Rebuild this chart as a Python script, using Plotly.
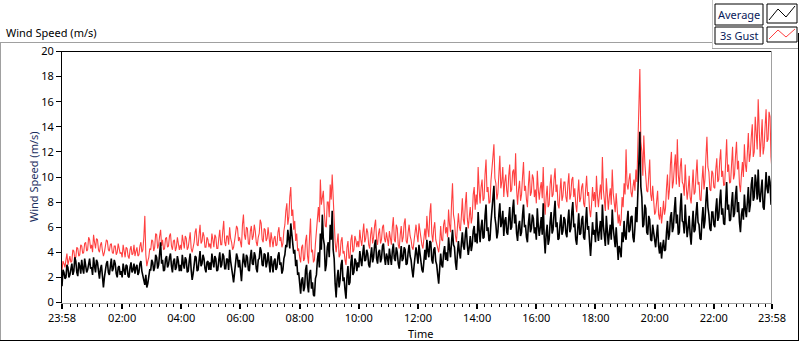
import pandas as pd
import plotly.graph_objects as go

# ---- data: 2-minute samples starting 23:58 (one row per hour) ----
avg_speed = [
    1.3, 2.6, 2.4, 1.9, 2.0, 3.0, 2.8, 2.0, 2.2, 2.7, 3.1, 2.2, 2.5, 3.6, 3.3, 2.4, 2.1, 3.2, 2.9, 2.3, 3.4, 2.7, 2.3, 3.5, 3.0, 2.4, 2.6, 3.3, 3.5, 2.7,
    2.8, 2.2, 3.6, 2.9, 2.4, 3.4, 3.2, 2.5, 1.9, 2.7, 3.0, 2.1, 1.2, 2.0, 2.6, 3.1, 3.3, 2.4, 2.2, 3.0, 3.5, 2.5, 2.7, 3.4, 3.1, 2.3, 2.0, 2.8, 2.9, 2.2,
    2.5, 2.0, 3.1, 2.6, 2.2, 3.0, 2.9, 2.1, 2.0, 2.8, 3.2, 2.4, 2.6, 3.1, 2.3, 2.8, 3.0, 2.2, 2.4, 3.1, 3.3, 2.5, 2.1, 1.6, 1.4, 2.2, 1.2, 1.5, 2.0, 2.6,
    2.6, 3.4, 3.2, 2.5, 2.8, 3.8, 3.6, 2.7, 3.0, 4.2, 4.8, 3.1, 3.4, 2.5, 2.6, 3.5, 3.7, 2.8, 3.0, 3.6, 3.9, 2.9, 2.4, 3.3, 3.5, 2.6, 2.8, 3.7, 3.3, 2.5,
    3.0, 2.5, 3.8, 3.1, 2.7, 3.6, 3.4, 2.4, 2.5, 3.3, 3.9, 2.6, 1.8, 2.3, 2.9, 3.7, 3.6, 2.5, 2.6, 3.5, 4.1, 2.9, 3.1, 3.8, 3.5, 2.7, 2.4, 3.2, 3.3, 2.6,
    3.2, 2.6, 3.9, 3.3, 2.8, 3.7, 3.5, 2.5, 2.6, 3.4, 4.0, 2.8, 3.0, 3.9, 3.7, 2.7, 2.7, 3.5, 3.4, 2.6, 4.2, 3.3, 2.9, 2.2, 1.6, 2.4, 3.1, 3.9, 3.6, 2.8,
    3.4, 2.3, 1.7, 3.0, 3.9, 3.2, 2.8, 3.8, 3.6, 2.6, 2.5, 3.6, 4.2, 3.1, 3.0, 4.0, 3.7, 2.7, 2.4, 3.4, 3.5, 4.4, 4.1, 3.0, 2.9, 3.9, 3.8, 2.8, 3.2, 4.0,
    3.0, 2.4, 3.7, 3.1, 2.4, 3.3, 3.5, 2.6, 2.8, 3.7, 4.0, 3.0, 3.2, 2.3, 2.6, 3.5, 3.8, 4.6, 4.4, 5.8, 5.2, 4.3, 6.3, 5.5, 5.0, 3.9, 4.2, 2.9, 3.4, 2.2,
    2.4, 1.5, 0.7, 1.8, 2.0, 0.9, 1.2, 2.6, 3.0, 1.4, 0.8, 2.3, 2.6, 1.1, 1.6, 0.6, 0.5, 1.9, 2.2, 3.4, 4.0, 2.8, 5.5, 4.2, 7.0, 5.1, 4.6, 2.5, 3.0, 4.4,
    4.8, 3.6, 6.2, 5.0, 7.3, 4.2, 3.5, 1.5, 0.4, 1.9, 2.6, 1.2, 1.8, 3.0, 3.4, 1.7, 2.0, 1.0, 0.3, 2.1, 2.9, 1.4, 1.6, 3.2, 3.8, 2.2, 2.4, 3.5, 3.3, 2.5,
    3.2, 2.8, 4.1, 3.4, 2.9, 3.9, 4.6, 3.3, 3.4, 4.2, 3.9, 3.0, 2.8, 3.7, 4.4, 3.2, 3.6, 4.6, 5.0, 3.5, 3.1, 4.0, 4.2, 3.2, 3.5, 4.5, 4.7, 3.6, 3.0, 3.9,
    3.6, 3.0, 4.3, 3.6, 3.0, 4.1, 4.7, 3.5, 3.3, 4.4, 4.0, 3.1, 2.7, 3.6, 4.5, 3.3, 3.5, 4.4, 4.2, 3.0, 3.1, 4.0, 4.6, 3.7, 3.4, 2.6, 2.0, 2.9, 3.8, 4.4,
    3.8, 3.1, 4.6, 3.9, 3.3, 2.6, 2.4, 3.5, 4.2, 3.4, 5.0, 4.1, 3.6, 4.9, 4.8, 3.4, 3.1, 4.2, 4.4, 3.3, 3.0, 2.2, 1.5, 2.7, 3.9, 3.0, 2.8, 4.0, 4.5, 3.4,
    4.0, 3.3, 5.2, 4.3, 3.6, 4.8, 5.8, 4.6, 4.4, 3.2, 2.6, 3.9, 4.9, 4.0, 3.5, 4.7, 5.6, 4.5, 4.2, 5.4, 6.0, 4.6, 3.8, 4.4, 5.3, 4.1, 4.6, 5.7, 6.1, 4.8,
    5.5, 4.7, 7.2, 5.8, 4.8, 6.0, 6.6, 5.1, 5.2, 6.9, 7.8, 5.7, 6.0, 4.9, 5.0, 6.4, 7.4, 8.2, 9.3, 6.8, 6.2, 5.1, 5.6, 7.0, 7.9, 6.0, 6.4, 7.3, 5.3, 6.5,
    6.8, 5.6, 5.4, 6.7, 7.6, 5.8, 6.0, 7.4, 8.2, 6.3, 7.0, 5.5, 4.9, 6.1, 6.5, 5.3, 5.6, 6.9, 7.8, 6.0, 6.2, 5.2, 4.8, 6.3, 7.1, 5.6, 5.9, 7.0, 6.7, 5.5,
    6.0, 5.0, 7.5, 6.1, 5.3, 6.0, 6.8, 5.4, 7.9, 5.2, 3.9, 5.5, 6.2, 4.6, 5.0, 6.4, 7.2, 5.5, 5.8, 7.1, 8.1, 6.0, 6.4, 5.0, 5.1, 6.2, 7.0, 5.4, 5.7, 6.8,
    6.6, 5.5, 5.2, 6.5, 7.4, 5.6, 5.9, 7.2, 8.0, 6.0, 6.3, 5.0, 4.6, 5.9, 7.1, 5.4, 5.5, 6.6, 6.9, 5.2, 5.0, 6.4, 7.6, 5.8, 6.1, 4.8, 3.7, 5.0, 6.4, 5.4,
    5.8, 4.8, 7.2, 5.7, 4.9, 5.8, 6.5, 5.0, 7.8, 6.1, 5.4, 4.5, 6.9, 5.6, 4.6, 5.5, 6.2, 5.0, 7.4, 5.9, 5.1, 4.4, 6.0, 4.7, 3.4, 4.5, 4.2, 3.6, 5.6, 4.8,
    6.5, 5.3, 5.0, 6.4, 7.3, 5.6, 5.8, 6.8, 6.9, 5.2, 4.8, 6.0, 7.6, 6.4, 8.5, 11.0, 13.6, 9.2, 8.4, 6.0, 6.2, 7.8, 7.5, 5.6, 5.4, 6.9, 6.6, 5.0, 4.9, 6.2,
    5.6, 4.6, 4.4, 5.4, 6.2, 4.5, 3.9, 4.8, 3.5, 4.4, 5.0, 4.1, 4.2, 5.6, 6.5, 5.0, 5.4, 6.8, 7.2, 5.6, 6.0, 7.4, 8.4, 6.3, 7.0, 5.4, 5.6, 7.5, 8.7, 6.5,
    6.4, 5.5, 7.8, 6.3, 5.2, 6.0, 6.9, 5.4, 4.6, 6.1, 7.3, 5.6, 5.8, 7.1, 8.0, 6.4, 6.2, 5.1, 5.0, 6.6, 7.6, 5.9, 6.5, 8.1, 9.2, 7.6, 7.0, 5.9, 5.7, 7.2,
    7.2, 6.2, 6.0, 7.4, 8.3, 6.5, 6.8, 8.1, 9.0, 7.0, 7.5, 6.3, 6.2, 8.0, 9.6, 7.4, 7.8, 6.5, 6.6, 7.9, 8.8, 6.8, 7.1, 8.5, 9.3, 7.2, 8.0, 6.4, 5.6, 7.0,
    7.5, 6.6, 8.6, 7.4, 6.8, 8.0, 9.2, 7.2, 7.8, 9.4, 10.0, 8.1, 8.4, 10.2, 9.5, 8.2, 10.6, 8.6, 8.0, 9.0, 9.8, 7.6, 7.4, 8.9, 10.4, 9.1, 8.7, 10.1, 9.6, 7.8, 8.0,
]
gust_speed = [
    2.6, 3.3, 3.1, 2.8, 3.4, 3.9, 3.0, 3.5, 3.7, 3.2, 3.3, 4.2, 4.1, 3.5, 3.6, 4.4, 4.3, 3.7, 3.8, 4.6, 4.5, 3.9, 4.0, 4.7, 4.8, 4.1, 4.2, 5.2, 5.0, 4.3,
    4.6, 4.0, 5.4, 4.8, 4.3, 5.1, 5.0, 4.2, 4.0, 4.6, 4.8, 4.1, 3.7, 4.0, 4.4, 5.0, 4.9, 4.2, 4.1, 4.6, 4.7, 4.0, 3.9, 4.5, 4.5, 3.8, 4.0, 4.7, 4.3, 3.9,
    4.0, 3.6, 4.6, 4.1, 3.6, 4.4, 4.3, 3.7, 3.5, 4.2, 4.5, 3.8, 3.9, 4.6, 3.7, 4.1, 4.4, 3.7, 3.8, 4.5, 4.8, 4.0, 4.2, 5.2, 6.9, 3.8, 2.9, 3.3, 3.6, 4.3,
    4.2, 5.0, 4.9, 4.1, 4.4, 5.5, 5.4, 4.3, 4.6, 5.3, 5.8, 4.5, 5.0, 4.2, 4.3, 5.1, 5.2, 4.4, 4.5, 5.3, 5.5, 4.5, 4.2, 4.9, 5.0, 4.1, 4.4, 5.2, 4.8, 4.2,
    4.6, 4.2, 5.4, 4.8, 4.3, 5.3, 5.1, 4.2, 4.4, 5.0, 5.6, 4.3, 4.0, 4.4, 4.8, 5.6, 5.9, 4.6, 4.5, 5.4, 6.2, 4.7, 4.9, 5.6, 5.3, 4.4, 4.4, 5.2, 5.0, 4.4,
    4.7, 4.3, 5.5, 5.0, 4.4, 5.4, 5.2, 4.3, 4.3, 5.1, 5.8, 4.6, 4.6, 5.7, 6.5, 4.8, 4.5, 5.3, 5.3, 4.6, 6.0, 5.1, 4.8, 4.2, 4.4, 4.9, 5.4, 6.1, 5.9, 4.9,
    5.2, 4.6, 4.4, 6.2, 7.0, 5.4, 5.0, 6.0, 5.9, 4.7, 4.6, 5.7, 6.1, 5.0, 5.3, 6.2, 5.7, 4.8, 4.5, 5.2, 5.5, 6.6, 6.3, 5.0, 4.8, 5.9, 5.8, 4.9, 5.1, 6.0,
    4.8, 4.4, 5.6, 5.0, 4.4, 5.1, 5.3, 4.5, 4.6, 5.6, 6.0, 4.9, 5.2, 4.4, 4.7, 5.7, 6.2, 7.3, 7.9, 6.2, 6.8, 8.4, 9.2, 6.9, 7.4, 5.8, 6.5, 4.9, 5.5, 4.1,
    4.3, 3.6, 3.2, 4.4, 4.6, 3.3, 3.5, 4.9, 5.4, 3.7, 3.1, 5.2, 6.7, 4.0, 4.2, 3.2, 3.4, 4.7, 5.6, 6.8, 7.6, 6.4, 9.8, 7.8, 8.6, 8.9, 7.2, 6.1, 6.0, 8.0,
    8.0, 6.8, 9.4, 8.2, 10.2, 7.8, 7.1, 4.8, 4.0, 4.6, 5.5, 3.6, 3.8, 4.9, 5.2, 3.9, 4.1, 3.4, 3.0, 4.4, 4.9, 3.5, 3.6, 5.0, 5.4, 4.0, 4.2, 5.3, 5.0, 4.4,
    4.9, 4.4, 5.8, 5.0, 4.5, 5.5, 6.3, 4.8, 5.1, 5.9, 5.6, 4.6, 4.3, 5.4, 6.0, 4.7, 5.2, 6.1, 6.6, 5.0, 4.6, 5.5, 5.9, 4.7, 5.0, 6.0, 6.2, 5.1, 4.8, 5.6,
    5.0, 4.5, 5.7, 5.1, 4.6, 6.0, 6.8, 5.0, 4.8, 6.2, 5.9, 4.6, 4.3, 5.4, 6.1, 4.8, 5.2, 6.3, 6.7, 4.9, 4.7, 5.6, 6.2, 5.3, 5.0, 4.4, 4.2, 4.9, 5.6, 6.2,
    5.4, 4.8, 6.3, 5.6, 5.0, 4.6, 4.3, 5.2, 5.9, 5.0, 6.9, 5.8, 5.2, 7.1, 7.9, 5.5, 4.8, 5.9, 6.4, 5.0, 4.6, 4.2, 4.0, 4.7, 6.1, 5.0, 4.9, 6.2, 6.6, 5.5,
    6.0, 5.2, 7.4, 6.2, 5.6, 7.8, 9.5, 7.0, 6.5, 5.3, 4.8, 6.0, 7.1, 6.0, 5.7, 6.9, 8.3, 6.6, 6.2, 7.8, 8.8, 6.7, 5.9, 6.8, 7.6, 6.3, 6.8, 8.6, 9.2, 7.4,
    8.6, 7.8, 10.8, 9.0, 7.9, 9.2, 9.8, 8.1, 8.3, 10.2, 11.4, 8.8, 9.2, 7.9, 8.0, 9.7, 10.4, 11.6, 12.6, 9.9, 9.5, 8.2, 8.7, 10.5, 11.7, 9.1, 9.6, 10.8, 8.4, 9.6,
    10.2, 8.9, 8.4, 10.1, 11.0, 8.8, 9.0, 10.4, 10.6, 9.3, 11.9, 9.0, 7.8, 9.0, 9.7, 8.1, 8.6, 10.0, 11.2, 8.9, 9.3, 8.2, 7.6, 9.4, 10.5, 8.5, 8.8, 10.2, 9.9, 8.4,
    9.0, 7.9, 10.5, 9.0, 8.2, 9.1, 9.6, 8.3, 10.8, 8.1, 7.0, 8.4, 9.3, 7.6, 7.8, 9.4, 10.2, 8.4, 8.6, 9.8, 10.7, 8.8, 9.4, 7.8, 7.5, 8.9, 9.9, 8.1, 8.5, 9.6,
    9.6, 8.4, 8.0, 9.4, 10.3, 8.2, 8.6, 9.8, 10.0, 8.4, 9.1, 7.8, 7.2, 8.6, 9.8, 8.0, 8.3, 9.2, 9.5, 7.9, 7.6, 9.0, 10.1, 8.5, 8.8, 7.4, 6.8, 7.8, 9.2, 8.1,
    8.8, 7.6, 10.1, 8.5, 7.6, 8.6, 9.4, 8.2, 11.6, 9.0, 8.2, 7.3, 9.9, 8.3, 7.4, 8.4, 9.1, 7.8, 10.6, 8.7, 8.0, 7.2, 8.7, 7.2, 6.3, 7.0, 6.1, 6.6, 8.4, 7.6,
    9.5, 8.6, 12.2, 9.4, 9.0, 9.8, 10.3, 8.8, 8.4, 9.2, 9.8, 8.9, 10.6, 9.6, 12.4, 17.0, 18.6, 12.8, 12.0, 10.1, 13.3, 11.2, 10.2, 8.9, 8.8, 10.4, 11.4, 8.6, 8.1, 9.3,
    8.0, 7.0, 7.2, 8.4, 8.9, 7.0, 6.6, 7.6, 6.3, 7.1, 8.1, 7.0, 7.5, 9.1, 10.2, 8.2, 9.0, 11.0, 12.0, 9.1, 9.6, 10.9, 11.8, 9.4, 13.0, 10.2, 9.2, 10.8, 11.5, 9.6,
    9.4, 8.5, 11.0, 9.3, 8.2, 9.0, 10.1, 8.4, 7.9, 9.2, 10.6, 8.6, 8.8, 10.2, 11.4, 9.4, 9.6, 8.2, 8.1, 9.7, 10.9, 9.0, 9.8, 11.6, 13.2, 10.8, 10.4, 9.0, 8.9, 10.5,
    10.3, 9.2, 9.1, 10.6, 11.5, 9.6, 9.8, 11.3, 12.2, 10.0, 10.5, 9.3, 9.4, 11.2, 13.0, 10.4, 11.0, 9.5, 9.6, 11.0, 12.4, 9.8, 10.2, 11.7, 12.8, 10.6, 11.3, 9.4, 8.8, 10.2,
    11.2, 10.0, 12.6, 11.0, 10.4, 11.9, 13.5, 11.2, 11.8, 13.2, 14.2, 11.6, 12.0, 14.8, 13.8, 12.2, 16.2, 12.6, 11.6, 13.0, 14.6, 11.8, 12.4, 14.0, 15.4, 12.8, 13.0, 15.2, 14.8, 11.6, 10.5,
]
start_time = "2024-01-01 23:58"
sample_minutes = 2
tick_labels = ["23:58", "02:00", "04:00", "06:00", "08:00", "10:00", "12:00",
               "14:00", "16:00", "18:00", "20:00", "22:00", "23:58"]

t0 = pd.Timestamp(start_time)
t_end = t0 + pd.Timedelta(hours=24)
times_avg = [t0 + pd.Timedelta(minutes=sample_minutes * i) for i in range(len(avg_speed))]
times_gust = [t0 + pd.Timedelta(minutes=sample_minutes * i) for i in range(len(gust_speed))]
day2 = pd.Timestamp("2024-01-02 00:00")
tick_vals = [t0] + [day2 + pd.Timedelta(hours=2 * k) for k in range(1, 12)] + [t_end]

# ---- layout geometry (pixels) ----
W, H = 800, 342
L, R, T, B = 62, 772, 51, 303


def px(x):
    return (x - L) / (R - L)


def py(y):
    return (B - y) / (B - T)


FONT = "Noto Sans"
FS = 11
fig = go.Figure()
fig.add_trace(go.Scatter(x=times_gust, y=gust_speed, mode="lines", name="3s Gust",
                         line=dict(color="#ff4040", width=1.1)))
fig.add_trace(go.Scatter(x=times_avg, y=avg_speed, mode="lines", name="Average",
                         line=dict(color="#000000", width=1.6)))

shapes = []


def line(x0, y0, x1, y1, color, width=1):
    shapes.append(dict(type="line", xref="paper", yref="paper",
                       x0=px(x0), y0=py(y0), x1=px(x1), y1=py(y1),
                       line=dict(color=color, width=width)))


def rect(x0, y0, x1, y1, color):
    shapes.append(dict(type="rect", xref="paper", yref="paper",
                       x0=px(x0), y0=py(y0), x1=px(x1), y1=py(y1),
                       line=dict(color=color, width=1), fillcolor="white"))


def zig(pts, color):
    d = "M" + " L".join(f"{px(a)},{py(b)}" for a, b in pts)
    shapes.append(dict(type="path", xref="paper", yref="paper", path=d,
                       line=dict(color=color, width=1)))


# outer frame
line(0, 42.5, 712, 42.5, "#a0a0a0")
line(0.5, 42, 0.5, 341, "#a0a0a0")
line(0, 340.5, 799, 340.5, "#000000")
line(798.5, 33, 798.5, 341, "#000000")
# legend panel
line(712.5, 0, 712.5, 49, "#c8c8c8")
line(712, 48.5, 798, 48.5, "#a0a0a0")
rect(715, 4, 763, 25, "#000000")
rect(767, 4, 797, 23, "#000000")
rect(715, 27, 763, 44, "#000000")
rect(767, 27, 797, 42, "#000000")
zig([(769, 20), (778, 9), (786, 17), (795, 6)], "#000000")
zig([(769, 39), (778, 30), (786, 37), (795, 29)], "#ff4040")
# plot frame top / right
line(62, 51.5, 772, 51.5, "#000000")
line(771.5, 51, 771.5, 303, "#a0a0a0")

annotations = [
    dict(text="Wind Speed (m/s)", x=px(4), y=py(32), xanchor="left", yanchor="middle",
         font=dict(family=FONT, size=FS, color="#000000")),
    dict(text="Time", x=px(420), y=py(333), xanchor="center", yanchor="middle",
         font=dict(family=FONT, size=FS, color="#000000")),
    dict(text="Wind Speed (m/s)", x=px(33), y=py(177), xanchor="center", yanchor="middle",
         textangle=-90, font=dict(family=FONT, size=FS, color="#1a2d5e")),
    dict(text="Average", x=px(739), y=py(14.5), xanchor="center", yanchor="middle",
         font=dict(family=FONT, size=FS, color="#0a1a5a")),
    dict(text="3s Gust", x=px(739), y=py(35.5), xanchor="center", yanchor="middle",
         font=dict(family=FONT, size=FS, color="#0a1a5a")),
]
for a in annotations:
    a.update(xref="paper", yref="paper", showarrow=False)

fig.update_layout(
    width=W, height=H,
    margin=dict(l=L, r=W - R, t=T, b=H - B, pad=0),
    paper_bgcolor="white", plot_bgcolor="white",
    showlegend=False,
    shapes=shapes, annotations=annotations,
    font=dict(family=FONT, size=FS, color="#000000"),
    xaxis=dict(
        type="date", range=[t0, t_end],
        tickmode="array", tickvals=tick_vals, ticktext=tick_labels,
        ticks="outside", ticklen=5, tickwidth=2, tickcolor="#000000",
        showline=True, linecolor="#a0a0a0", linewidth=1,
        showgrid=False, zeroline=False,
        tickfont=dict(family=FONT, size=FS, color="#000000"),
        minor=dict(ticks="outside", ticklen=3, tickwidth=1, tickcolor="#000000",
                   dtick=15 * 60 * 1000, tick0=day2, showgrid=False),
    ),
    yaxis=dict(
        range=[-0.04, 20.04], tickmode="linear", tick0=0, dtick=2,
        ticks="outside", ticklen=5, tickcolor="#000000",
        showline=True, linecolor="#000000", linewidth=1,
        showgrid=False, zeroline=False,
        tickfont=dict(family=FONT, size=FS, color="#000000"),
    ),
)

fig.write_html("out.html",
               config={"displayModeBar": False},
               post_script="document.body.style.margin='0';"
                           "document.body.style.overflow='hidden';")
